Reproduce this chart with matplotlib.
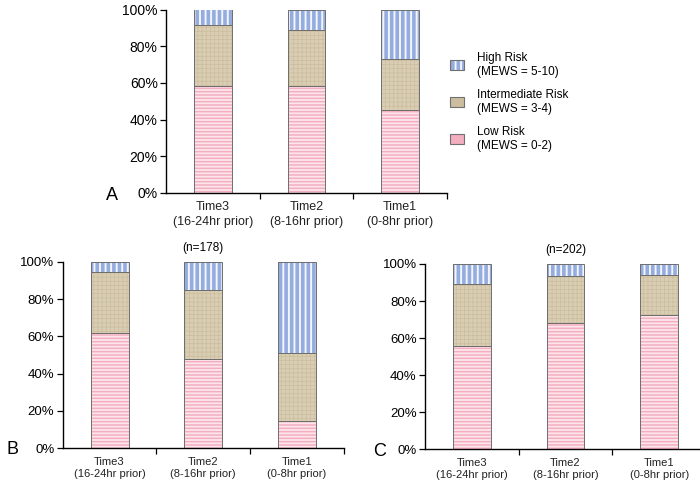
import matplotlib
matplotlib.use("Agg")
import matplotlib.pyplot as plt
from matplotlib.patches import Patch

plt.rcParams['font.family'] = ['Liberation Sans', 'DejaVu Sans']

times = ["Time3\n(16-24hr prior)", "Time2\n(8-16hr prior)", "Time1\n(0-8hr prior)"]

# percent of patients in each MEWS group
low_a = [58.5, 58.5, 45.0]
mid_a = [33.0, 30.5, 28.0]
high_a = [8.5, 11.0, 27.0]

low_b = [61.6, 47.7, 14.5]
mid_b = [32.9, 36.9, 36.4]
high_b = [5.5, 15.4, 49.1]

low_c = [55.9, 68.3, 72.3]
mid_c = [33.1, 25.0, 21.6]
high_c = [11.0, 6.7, 6.1]

legend_labels = ["High Risk\n(MEWS = 5-10)", "Intermediate Risk\n(MEWS = 3-4)", "Low Risk\n(MEWS = 0-2)"]

# (face, hatch colour, hatch, hatch lw)
styles = {
    "low": ("#fce6ec", "#f3aec0", "-----", 1.1),
    "mid": ("#d9cdb3", "#cbbd9d", "++++", 0.5),
    "high": ("#f2f5fc", "#95acdf", "|||", 2.6),
}


def hatched_bar(ax, x, h, bottom, key):
    face, hcol, hatch, hlw = styles[key]
    plt.rcParams['hatch.linewidth'] = hlw
    bars = ax.bar(x, h, 0.405, bottom=bottom, color=face, edgecolor=hcol,
                  hatch=hatch, linewidth=0)
    for b in bars:
        if hasattr(b, "set_hatch_linewidth"):
            b.set_hatch_linewidth(hlw)
    # segment outline
    ax.bar(x, h, 0.405, bottom=bottom, fill=False, edgecolor="#6e6e6e", linewidth=0.7)


def panel(ax, low, mid, high, ysize, xsize):
    x = range(len(times))
    mid_bottom = low
    high_bottom = [l + m for l, m in zip(low, mid)]
    hatched_bar(ax, x, low, 0, "low")
    hatched_bar(ax, x, mid, mid_bottom, "mid")
    hatched_bar(ax, x, high, high_bottom, "high")
    ax.set_xlim(-0.5, 2.5)
    ax.set_ylim(0, 100)
    ax.set_yticks([0, 20, 40, 60, 80, 100])
    ax.set_yticklabels(["0%", "20%", "40%", "60%", "80%", "100%"], fontsize=ysize)
    ax.set_xticks(list(x))
    ax.set_xticklabels(times, fontsize=xsize, color="#222222")
    ax.set_xticks([0.5, 1.5, 2.5], minor=True)
    ax.tick_params(axis="x", which="major", length=0, pad=6)
    ax.tick_params(axis="x", which="minor", length=4, direction="out", width=0.9)
    ax.tick_params(axis="y", length=4, direction="out", width=0.9, pad=2)
    ax.spines["top"].set_visible(False)
    ax.spines["right"].set_visible(False)
    for s in ("left", "bottom"):
        ax.spines[s].set_linewidth(1.0)
    for t in ax.get_xticklabels():
        t.set_linespacing(1.3)


fig = plt.figure(figsize=(7, 4.84), dpi=100)

ax_a = fig.add_axes([166 / 700, 1 - 193 / 484, 281 / 700, 183.5 / 484])
panel(ax_a, low_a, mid_a, high_a, 10, 9)

ax_b = fig.add_axes([62.7 / 700, 1 - 448.3 / 484, 281 / 700, 186.6 / 484])
panel(ax_b, low_b, mid_b, high_b, 9.5, 8)
ax_b.set_title("(n=178)", fontsize=8.5, pad=8)

ax_c = fig.add_axes([425 / 700, 1 - 449.3 / 484, 281 / 700, 185.3 / 484])
panel(ax_c, low_c, mid_c, high_c, 9.5, 8)
ax_c.set_title("(n=202)", fontsize=8.5, pad=8)

fig.text(106 / 700, 1 - 200 / 484, "A", fontsize=13, ha="left", va="baseline")
fig.text(7 / 700, 1 - 454 / 484, "B", fontsize=13, ha="left", va="baseline")
fig.text(373 / 700, 1 - 456 / 484, "C", fontsize=13, ha="left", va="baseline")

handles = []
for key in ("high", "mid", "low"):
    face, hcol, hatch, hlw = styles[key]
    fillp = Patch(facecolor=face, edgecolor=hcol, hatch=hatch, linewidth=0)
    edgep = Patch(fill=False, edgecolor="#707070", linewidth=0.8)
    handles.append((fillp, edgep))
fig.legend(handles, legend_labels, loc="upper left",
           bbox_to_anchor=(450 / 700, 1 - 52 / 484), frameon=False, fontsize=8.5,
           handlelength=1.2, handleheight=0.95, handletextpad=1.1,
           labelspacing=0.95, borderpad=0, borderaxespad=0)

fig.savefig("out.png", dpi=100)
